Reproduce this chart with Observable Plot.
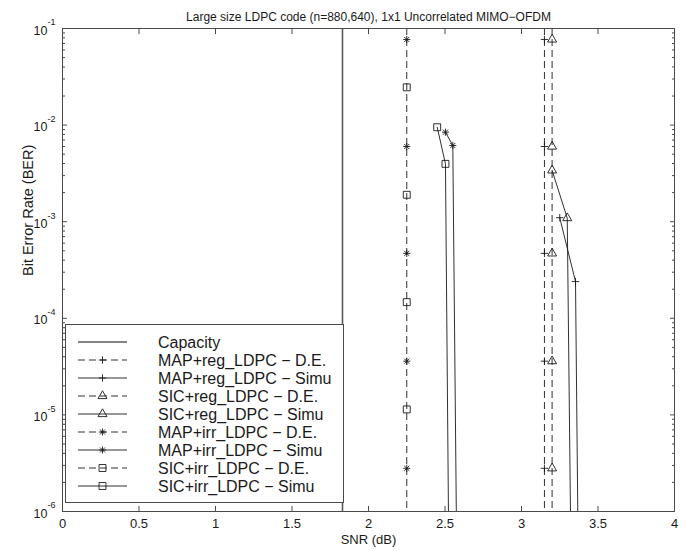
<!DOCTYPE html>
<html><head><meta charset="utf-8">
<script src="https://cdn.jsdelivr.net/npm/d3@7"></script>
<script src="https://cdn.jsdelivr.net/npm/@observablehq/plot@0.6"></script>
<style>
body{margin:0;background:#fff;}
#wrap{position:relative;width:687px;height:551px;}
#wrap svg{display:block;}
#legend{position:absolute;left:0;top:0;pointer-events:none;}
</style></head><body><div id="wrap"></div>
<script>
// ---------------- data ----------------
const title = "Large size LDPC code (n=880,640), 1x1 Uncorrelated MIMO−OFDM";
const xLabel = "SNR (dB)";
const yLabel = "Bit Error Rate (BER)";
const xTicks = [0, 0.5, 1, 1.5, 2, 2.5, 3, 3.5, 4];
const xTickLabels = ["0", "0.5", "1", "1.5", "2", "2.5", "3", "3.5", "4"];
const yExponents = [-1, -2, -3, -4, -5, -6];

const seriesNames = [
  "Capacity",
  "MAP+reg_LDPC − D.E.",
  "MAP+reg_LDPC − Simu",
  "SIC+reg_LDPC − D.E.",
  "SIC+reg_LDPC − Simu",
  "MAP+irr_LDPC − D.E.",
  "MAP+irr_LDPC − Simu",
  "SIC+irr_LDPC − D.E.",
  "SIC+irr_LDPC − Simu"
];
const seriesSymbols = [null, "plus", "plus", "triangle", "triangle", "star", "star", "square", "square"];
const seriesDashed = [false, true, false, true, false, true, false, true, false];

// Capacity limit (vertical line)
const capacitySnr = 1.83;

// Density-evolution thresholds (vertical dashed lines) and their marker heights
const mapRegDeSnr = 3.15;
const sicRegDeSnr = 3.2;
const mapIrrDeSnr = 2.25;
const sicIrrDeSnr = 2.25;
const regDeMarkBer = [7.7e-2, 6.0e-3, 4.7e-4, 3.6e-5, 2.8e-6];
const mapIrrDeMarkBer = [7.7e-2, 6.0e-3, 4.7e-4, 3.6e-5, 2.8e-6];
const sicIrrDeMarkBer = [2.46e-2, 1.9e-3, 1.47e-4, 1.14e-5];

// Simulation curves (last point lies below the visible range)
const mapRegSimSnr = [3.25, 3.353, 3.374];
const mapRegSimBer = [1.1e-3, 2.4e-4, 1e-7];
const sicRegSimSnr = [3.2, 3.299, 3.327];
const sicRegSimBer = [3.4e-3, 1.09e-3, 1e-7];
const mapIrrSimSnr = [2.503, 2.551, 2.58];
const mapIrrSimBer = [8.45e-3, 6.15e-3, 1e-7];
const sicIrrSimSnr = [2.449, 2.503, 2.528];
const sicIrrSimBer = [9.5e-3, 3.97e-3, 1e-7];

// ---------------- styling helpers ----------------
const FONT = "'Liberation Sans', Arial, Helvetica, sans-serif";
const INK = "#1a1a1a";
const AXIS = "#4a4a4a";
const DASH = "7,4";

const starSymbol = {
  draw(ctx, size) {
    const r = Math.sqrt(size) * 0.5;
    const d = r * Math.SQRT1_2;
    ctx.moveTo(0, -r); ctx.lineTo(0, r);
    ctx.moveTo(-r, 0); ctx.lineTo(r, 0);
    ctx.moveTo(-d, -d); ctx.lineTo(d, d);
    ctx.moveTo(-d, d); ctx.lineTo(d, -d);
  }
};
const symbolSpec = {
  plus: {symbol: "plus", r: 2.5, d3: d3.symbolPlus},
  triangle: {symbol: "triangle2", r: 4.3, d3: d3.symbolTriangle2},
  star: {symbol: starSymbol, r: 4.0, d3: starSymbol},
  square: {symbol: "square2", r: 4.4, d3: d3.symbolSquare2}
};

const zip = (xs, ys) => xs.map((x, i) => ({snr: x, ber: ys[i]}));
const atSnr = (snr, bers) => bers.map(b => ({snr, ber: b}));

function dots(data, kind) {
  const s = symbolSpec[kind];
  return Plot.dot(data, {x: "snr", y: "ber", symbol: () => s.symbol, r: s.r, fill: "none", stroke: INK, strokeWidth: 0.9, clip: true});
}

const yMajor = yExponents.map(e => Math.pow(10, e));
const yMinor = [];
for (const e of yExponents.slice(1)) for (let k = 2; k <= 9; k++) yMinor.push(k * Math.pow(10, e));

const chart = Plot.plot({
  width: 687,
  height: 551,
  marginLeft: 62,
  marginRight: 13,
  marginTop: 28,
  marginBottom: 40,
  style: {fontFamily: FONT, fontSize: "13px", background: "white", color: INK, overflow: "visible"},
  x: {domain: [0, 4]},
  y: {type: "log", domain: [1e-6, 1e-1]},
  symbol: {type: "identity"},
  marks: [
    // axes (inward ticks on all sides)
    Plot.axisX(xTicks, {anchor: "bottom", tickSize: -5, tickPadding: 12, stroke: AXIS, fill: INK,
      tickFormat: d => xTickLabels[xTicks.indexOf(d)], fontSize: 13, label: null}),
    Plot.axisX(xTicks, {anchor: "top", tickSize: -5, stroke: AXIS, tickFormat: () => "", label: null}),
    Plot.axisY(yMajor, {anchor: "left", tickSize: -5, stroke: AXIS, tickFormat: () => "", label: null}),
    Plot.axisY(yMajor, {anchor: "right", tickSize: -5, stroke: AXIS, tickFormat: () => "", label: null}),
    Plot.axisY(yMinor, {anchor: "left", tickSize: -3, stroke: AXIS, tickFormat: () => "", label: null}),
    Plot.axisY(yMinor, {anchor: "right", tickSize: -3, stroke: AXIS, tickFormat: () => "", label: null}),
    // y tick labels 10^e
    Plot.text(yExponents, {frameAnchor: "left", y: e => Math.pow(10, e), text: () => "10", textAnchor: "end", dx: -15, dy: 2, fontSize: 12.5, fill: INK}),
    Plot.text(yExponents, {frameAnchor: "left", y: e => Math.pow(10, e), text: e => "-" + Math.abs(e), textAnchor: "start", dx: -15, dy: -6, fontSize: 9, fill: INK}),
    // labels and title
    Plot.text([xLabel], {frameAnchor: "bottom", text: d => d, dy: 32, fontSize: 13, fill: INK}),
    Plot.text([yLabel], {frameAnchor: "left", text: d => d, dx: -34, dy: 6, rotate: -90, fontSize: 14.5, fill: INK}),
    Plot.text([title], {frameAnchor: "top", text: d => d, dy: -16, fontSize: 12, fill: INK}),
    // capacity
    Plot.ruleX([capacitySnr], {stroke: "#5a5a5a", strokeWidth: 1.6}),
    // D.E. thresholds
    Plot.ruleX([mapRegDeSnr], {stroke: INK, strokeWidth: 0.9, strokeDasharray: DASH}),
    Plot.ruleX([sicRegDeSnr], {stroke: INK, strokeWidth: 0.9, strokeDasharray: DASH}),
    Plot.ruleX([mapIrrDeSnr], {stroke: INK, strokeWidth: 0.9, strokeDasharray: DASH}),
    dots(atSnr(mapRegDeSnr, regDeMarkBer), "plus"),
    dots(atSnr(sicRegDeSnr, regDeMarkBer), "triangle"),
    dots(atSnr(mapIrrDeSnr, mapIrrDeMarkBer), "star"),
    dots(atSnr(sicIrrDeSnr, sicIrrDeMarkBer), "square"),
    // simulations
    Plot.line(zip(mapRegSimSnr, mapRegSimBer), {x: "snr", y: "ber", stroke: INK, strokeWidth: 0.9, clip: true}),
    Plot.line(zip(sicRegSimSnr, sicRegSimBer), {x: "snr", y: "ber", stroke: INK, strokeWidth: 0.9, clip: true}),
    Plot.line(zip(mapIrrSimSnr, mapIrrSimBer), {x: "snr", y: "ber", stroke: INK, strokeWidth: 0.9, clip: true}),
    Plot.line(zip(sicIrrSimSnr, sicIrrSimBer), {x: "snr", y: "ber", stroke: INK, strokeWidth: 0.9, clip: true}),
    dots(zip(mapRegSimSnr, mapRegSimBer), "plus"),
    dots(zip(sicRegSimSnr, sicRegSimBer), "triangle"),
    dots(zip(mapIrrSimSnr, mapIrrSimBer), "star"),
    dots(zip(sicIrrSimSnr, sicIrrSimBer), "square"),
    Plot.frame({stroke: AXIS, strokeWidth: 1})
  ]
});
const wrap = document.getElementById("wrap");
wrap.appendChild(chart);

// ---------------- legend (overlay inside the axes) ----------------
const lg = d3.select(wrap).append("svg").attr("id", "legend").attr("width", 687).attr("height", 551)
  .style("font-family", FONT);
lg.append("rect").attr("x", 65.5).attr("y", 324.5).attr("width", 278).attr("height", 178)
  .attr("fill", "white").attr("stroke", AXIS).attr("stroke-width", 1);
seriesNames.forEach((name, i) => {
  const y = 342 + 18 * i;
  const g = lg.append("g");
  g.append("line").attr("x1", 78).attr("x2", 127).attr("y1", y).attr("y2", y)
    .attr("stroke", i === 0 ? "#5a5a5a" : INK).attr("stroke-width", i === 0 ? 1.6 : 0.9)
    .attr("stroke-dasharray", seriesDashed[i] ? DASH : null);
  const kind = seriesSymbols[i];
  if (kind) {
    const s = symbolSpec[kind];
    g.append("path").attr("d", d3.symbol(s.d3, s.r * s.r * Math.PI)())
      .attr("transform", `translate(102.5,${y})`).attr("fill", "none").attr("stroke", INK).attr("stroke-width", 0.9);
  }
  g.append("text").attr("x", 158).attr("y", y).attr("dy", "0.35em").attr("font-size", 16).attr("fill", INK).text(name);
});
</script></body></html>
